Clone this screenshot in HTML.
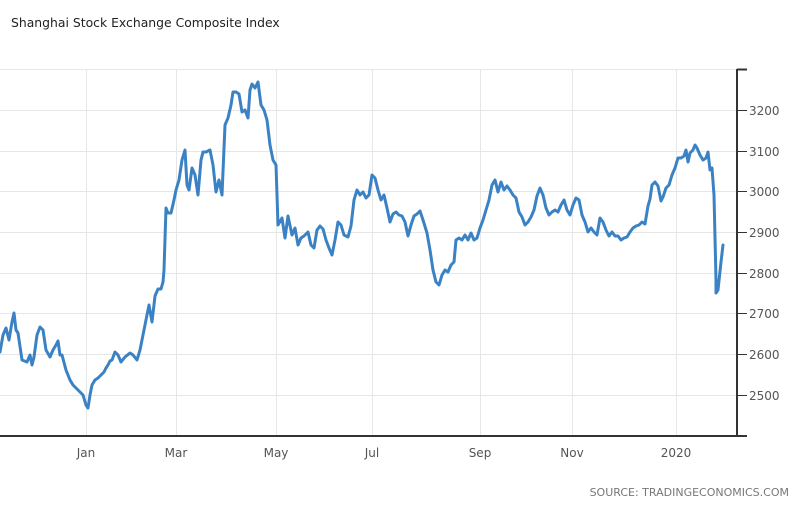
<!DOCTYPE html>
<html><head><meta charset="utf-8"><style>
html,body{margin:0;padding:0;background:#fff;}
body{width:800px;height:502px;overflow:hidden;font-family:"DejaVu Sans","Liberation Sans",sans-serif;}
</style></head><body>
<svg width="800" height="502" xmlns="http://www.w3.org/2000/svg">
<text x="11" y="27" font-size="12.4" fill="#222" font-family="DejaVu Sans, Liberation Sans, sans-serif">Shanghai Stock Exchange Composite Index</text>
<g stroke="#e6e6e6" stroke-width="1">
<line x1="0" y1="69.5" x2="737" y2="69.5"/>
<line x1="0" y1="110.5" x2="737" y2="110.5"/>
<line x1="0" y1="151.5" x2="737" y2="151.5"/>
<line x1="0" y1="191.5" x2="737" y2="191.5"/>
<line x1="0" y1="232.5" x2="737" y2="232.5"/>
<line x1="0" y1="273.5" x2="737" y2="273.5"/>
<line x1="0" y1="313.5" x2="737" y2="313.5"/>
<line x1="0" y1="354.5" x2="737" y2="354.5"/>
<line x1="0" y1="395.5" x2="737" y2="395.5"/>
<line x1="86.5" y1="69" x2="86.5" y2="436"/>
<line x1="176.5" y1="69" x2="176.5" y2="436"/>
<line x1="276.5" y1="69" x2="276.5" y2="436"/>
<line x1="372.5" y1="69" x2="372.5" y2="436"/>
<line x1="480.5" y1="69" x2="480.5" y2="436"/>
<line x1="572.5" y1="69" x2="572.5" y2="436"/>
<line x1="676.5" y1="69" x2="676.5" y2="436"/>
</g>
<g stroke="#333" stroke-width="2">
<line x1="0" y1="436" x2="738" y2="436"/>
<line x1="737" y1="69" x2="737" y2="437"/>
<line x1="737" y1="69.5" x2="747" y2="69.5"/>
<line x1="737" y1="436" x2="747" y2="436"/>
</g>
<g stroke="#333" stroke-width="1">
<line x1="737" y1="110.5" x2="747" y2="110.5"/>
<line x1="737" y1="151.5" x2="747" y2="151.5"/>
<line x1="737" y1="191.5" x2="747" y2="191.5"/>
<line x1="737" y1="232.5" x2="747" y2="232.5"/>
<line x1="737" y1="273.5" x2="747" y2="273.5"/>
<line x1="737" y1="313.5" x2="747" y2="313.5"/>
<line x1="737" y1="354.5" x2="747" y2="354.5"/>
<line x1="737" y1="395.5" x2="747" y2="395.5"/>
</g>
<g font-size="12" fill="#555" font-family="DejaVu Sans, Liberation Sans, sans-serif">
<text x="749" y="115">3200</text>
<text x="749" y="156">3100</text>
<text x="749" y="196">3000</text>
<text x="749" y="237">2900</text>
<text x="749" y="278">2800</text>
<text x="749" y="318">2700</text>
<text x="749" y="359">2600</text>
<text x="749" y="400">2500</text>
</g>
<g font-size="12" fill="#555" text-anchor="middle" font-family="DejaVu Sans, Liberation Sans, sans-serif">
<text x="86" y="457">Jan</text>
<text x="176" y="457">Mar</text>
<text x="276" y="457">May</text>
<text x="372" y="457">Jul</text>
<text x="480" y="457">Sep</text>
<text x="572" y="457">Nov</text>
<text x="676" y="457">2020</text>
</g>
<text x="789" y="496" font-size="11" fill="#777" text-anchor="end" font-family="DejaVu Sans, Liberation Sans, sans-serif">SOURCE: TRADINGECONOMICS.COM</text>
<polyline fill="none" stroke="#3a82c4" stroke-width="3" stroke-linejoin="round" stroke-linecap="round" points="0,352 3,335 6,328 9,340 12,322 14,313 16,330 18,333 22,360 27,362 30,355 32,365 34,357 37,335 40,327 43,330 46,350 50,357 53,350 56,345 58,341 60,355 62,355 66,370 70,380 73,385 76,388 80,392 83,395 86,405 88,408 90,395 92,385 95,380 98,378 101,375 104,372 106,368 108,365 110,361 112,360 115,352 118,355 121,362 125,357 130,353 133,355 137,360 140,350 143,335 146,320 149,305 152,322 155,296 158,289 161,289 163,282 164,270 166,208 168,213 171,213 174,200 176,190 179,180 182,160 185,150 187,185 189,190 192,168 195,175 198,195 201,160 203,152 206,152 210,150 213,165 216,192 219,180 222,195 225,125 228,118 231,105 233,92 236,92 239,94 242,112 245,110 248,118 250,90 252,84 255,88 258,82 261,105 264,110 267,120 270,145 273,160 276,165 278,225 282,218 285,238 288,216 292,235 295,228 298,245 301,238 304,236 308,232 311,245 314,248 317,230 320,226 323,229 326,240 329,248 332,255 335,240 338,222 341,225 344,235 348,237 351,226 354,200 357,190 360,195 363,192 366,198 369,195 372,175 375,178 378,190 381,200 384,195 387,208 390,222 393,214 396,212 399,215 402,216 405,222 408,236 411,225 414,216 417,214 420,211 423,220 427,233 430,250 433,270 436,282 439,285 442,275 445,270 448,272 451,265 454,262 456,240 459,238 462,240 465,235 468,240 471,233 474,240 477,238 480,228 483,220 486,210 489,200 492,185 495,180 498,192 501,182 504,190 507,186 510,190 513,195 516,198 519,212 522,217 525,225 528,222 531,217 534,210 537,196 540,188 543,195 546,208 549,215 552,212 555,210 558,212 561,205 564,200 567,210 570,215 573,205 576,198 579,200 582,215 585,222 588,232 591,228 594,232 597,235 600,218 603,222 606,230 609,236 612,232 615,236 618,236 621,240 624,238 627,237 630,232 633,228 636,226 639,225 642,222 645,224 648,206 650,199 652,185 655,182 658,186 661,201 663,197 666,188 669,185 672,175 675,168 678,158 681,158 684,156 686,150 688,162 690,153 693,150 695,145 697,148 700,155 703,160 706,158 708,152 710,170 712,168 714,195 716,280 716,293 718,290 721,262 723,245"/>
</svg>
</body></html>
